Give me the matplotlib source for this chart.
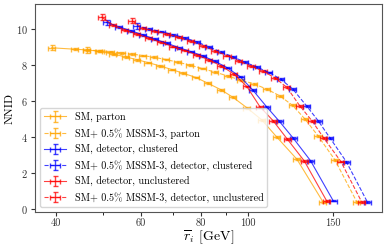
import numpy as np
import matplotlib
matplotlib.use("Agg")
import matplotlib.pyplot as plt
from matplotlib.ticker import FixedLocator, NullFormatter

plt.rcParams["font.family"] = ["cmr10", "DejaVu Serif"]
plt.rcParams["mathtext.fontset"] = "cm"
plt.rcParams["axes.formatter.use_mathtext"] = True

# SM, parton
r_sm_parton = [39.2, 43.8, 46.4, 49.4, 52.5, 55.9, 58.9, 62.1, 65.8, 69.6, 73.4, 78.1,
               82.7, 88.0, 93.2, 99.6, 107.0, 115.0, 126.5, 143.2]
n_sm_parton = [8.95, 8.87, 8.83, 8.75, 8.60, 8.44, 8.29, 8.13, 7.94, 7.74, 7.54, 7.30,
               6.98, 6.62, 6.20, 5.62, 4.94, 3.98, 2.76, 0.40]

# SM + 0.5% MSSM-3, parton
r_bsm_parton = [46.4, 49.1, 51.8, 54.6, 57.5, 60.6, 63.9, 67.6, 71.6, 75.9, 80.4, 85.5,
                91.0, 96.8, 103.0, 109.6, 116.6, 123.9, 131.4, 140.0, 151.7, 168.5]
n_bsm_parton = [8.83, 8.78, 8.74, 8.67, 8.60, 8.52, 8.42, 8.30, 8.15, 7.99, 7.80, 7.60,
                7.38, 7.15, 6.95, 6.65, 6.28, 5.75, 5.00, 4.05, 2.72, 0.38]

# SM, detector, clustered
r_sm_clus = [51.0, 54.0, 57.2, 60.6, 64.2, 68.0, 72.0, 76.2, 80.7, 85.5, 90.6, 96.4,
             102.5, 109.4, 116.2, 124.3, 135.0, 150.4]
n_sm_clus = [10.36, 10.12, 9.90, 9.67, 9.43, 9.20, 8.96, 8.74, 8.50, 8.20, 7.85, 7.35,
             6.60, 5.68, 4.88, 3.93, 2.68, 0.46]

# SM + 0.5% MSSM-3, detector, clustered
r_bsm_clus = [58.9, 62.4, 66.1, 70.0, 74.1, 78.4, 83.1, 88.0, 93.2, 98.7, 104.5, 110.6,
              117.2, 124.1, 132.5, 140.0, 148.1, 160.2, 177.0]
n_bsm_clus = [10.17, 10.00, 9.85, 9.68, 9.50, 9.28, 9.00, 8.72, 8.45, 8.15, 7.88, 7.58,
              7.20, 6.65, 5.72, 4.90, 3.95, 2.62, 0.40]

# SM, detector, unclustered
r_sm_uncl = [49.8, 52.5, 55.6, 58.9, 62.4, 66.1, 70.0, 74.1, 78.4, 83.1, 88.0, 93.6,
             99.6, 106.0, 112.9, 120.8, 131.0, 145.8]
n_sm_uncl = [10.65, 10.22, 9.95, 9.72, 9.48, 9.25, 9.02, 8.80, 8.56, 8.28, 7.95, 7.50,
             6.80, 5.68, 4.90, 3.88, 2.67, 0.45]

# SM + 0.5% MSSM-3, detector, unclustered
r_bsm_uncl = [57.5, 60.6, 64.2, 68.0, 72.0, 76.2, 80.7, 85.5, 90.6, 95.9, 101.6, 107.6,
              113.9, 120.6, 128.3, 135.9, 143.9, 156.1, 172.3]
n_bsm_uncl = [10.46, 10.05, 9.88, 9.72, 9.53, 9.33, 9.07, 8.78, 8.52, 8.22, 7.94, 7.65,
              7.28, 6.75, 5.72, 4.90, 3.93, 2.63, 0.40]

series = [
    (r_sm_parton, n_sm_parton, "orange", "-", "SM, parton"),
    (r_bsm_parton, n_bsm_parton, "orange", "--", "SM+ 0.5% MSSM-3, parton"),
    (r_sm_clus, n_sm_clus, "blue", "-", "SM, detector, clustered"),
    (r_bsm_clus, n_bsm_clus, "blue", "--", "SM+ 0.5% MSSM-3, detector, clustered"),
    (r_sm_uncl, n_sm_uncl, "red", "-", "SM, detector, unclustered"),
    (r_bsm_uncl, n_bsm_uncl, "red", "--", "SM+ 0.5% MSSM-3, detector, unclustered"),
]

rel_xerr = 0.017
yerr_first = 0.15
yerr_rest = 0.05

fig = plt.figure(figsize=(3.89, 2.49), dpi=100)
ax = fig.add_axes([0.09, 0.149, 0.892, 0.834])

for r, n, col, ls, lab in series:
    r = np.array(r)
    n = np.array(n)
    yerr = np.full(len(n), yerr_rest)
    yerr[0] = yerr_first
    ax.errorbar(r, n, xerr=rel_xerr * r, yerr=yerr, color=col, ls=ls, lw=0.8,
                elinewidth=1.0, capsize=1.8, alpha=0.75, label=lab)

ax.set_xscale("log")
ax.set_xlim(36.2, 190)
ax.set_ylim(-0.17, 11.37)
ax.xaxis.set_major_locator(FixedLocator([40, 60, 80, 100, 150]))
ax.xaxis.set_minor_locator(FixedLocator([50, 70, 90]))
ax.xaxis.set_minor_formatter(NullFormatter())
ax.set_xticklabels(["40", "60", "80", "100", "150"])
ax.set_yticks([0, 2, 4, 6, 8, 10])
ax.tick_params(labelsize=7.5, colors="#333333", pad=2, length=3)
ax.tick_params(which="minor", length=2)
for s in ax.spines.values():
    s.set_color("#555555")
ax.set_xlabel(r"$\overline{r}_i$ [GeV]", fontsize=10, labelpad=0)
ax.set_ylabel("NNID", fontsize=8.5, labelpad=1)
ax.legend(loc="lower left", fontsize=7.3, handlelength=2.2, labelspacing=0.55)

fig.savefig("out.png", dpi=100)
